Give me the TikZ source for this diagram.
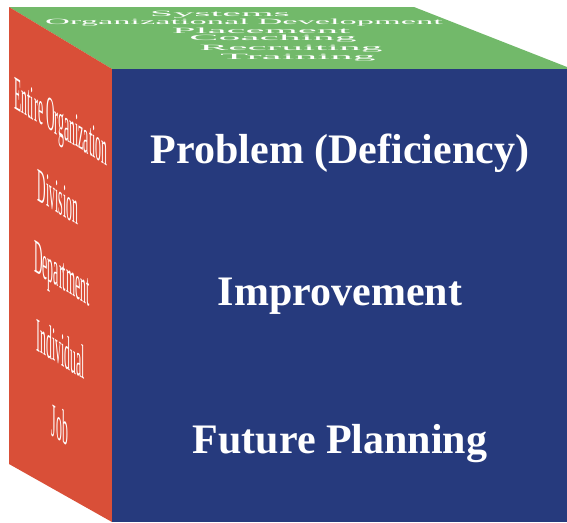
\documentclass[tikz,border=0pt]{standalone}
\usepackage{fontspec}
\setmainfont{Liberation Serif}
\definecolor{cubetop}{RGB}{114,185,106}
\definecolor{cubeside}{RGB}{217,79,56}
\definecolor{cubefront}{RGB}{38,58,125}
\tikzset{
  toptext/.style={text=white, inner sep=0pt, transform shape, yscale=0.4,
    font=\fontsize{20}{20}\selectfont},
  sidetext/.style={text=white, inner sep=0pt, anchor=base, transform shape,
    yslant=-0.62, xscale=0.245, font=\fontsize{48}{48}\selectfont},
  fronttext/.style={text=white, inner sep=0pt, anchor=base,
    font=\fontsize{42}{42}\selectfont\bfseries}
}
\begin{document}
\begin{tikzpicture}[x=1pt,y=-1pt]
            \useasboundingbox (0,0) rectangle (567,522);
            % faces of the cube
            \fill[cubetop] (9,7) -- (414,7) -- (567,67) -- (567,69) -- (112,69) -- cycle;
            \fill[cubeside] (9,7) -- (112,69) -- (112,522) -- (9,464) -- cycle;
            \fill[cubefront] (112,69) rectangle (567,522);

            % top face
            \node[toptext, xscale=2.10] (systems) at (220,15) {Systems};
            \node[toptext, xscale=1.72] (orgdev) at (244,23) {Organizational Development};
            \node[toptext, xscale=2.14] (placement) at (261,31) {Placement};
            \node[toptext, xscale=2.18] (coaching) at (273,39) {Coaching};
            \node[toptext, xscale=2.17] (recruiting) at (291,49) {Recruiting};
            \node[toptext, xscale=2.28] (training) at (298,58) {Training};

            % left face
            \node[sidetext] (entire) at (61,137) {Entire Organization};
            \node[sidetext] (division) at (58,213) {Division};
            \node[sidetext] (department) at (62,289) {Department};
            \node[sidetext] (individual) at (61,365) {Individual};
            \node[sidetext] (job) at (60,441) {Job};

            % front face
            \node[fronttext] (problem) at (340,163) {Problem (Deficiency)};
            \node[fronttext] (improvement) at (340,305) {Improvement};
            \node[fronttext] (future) at (340,453) {Future Planning};
\end{tikzpicture}
\end{document}
